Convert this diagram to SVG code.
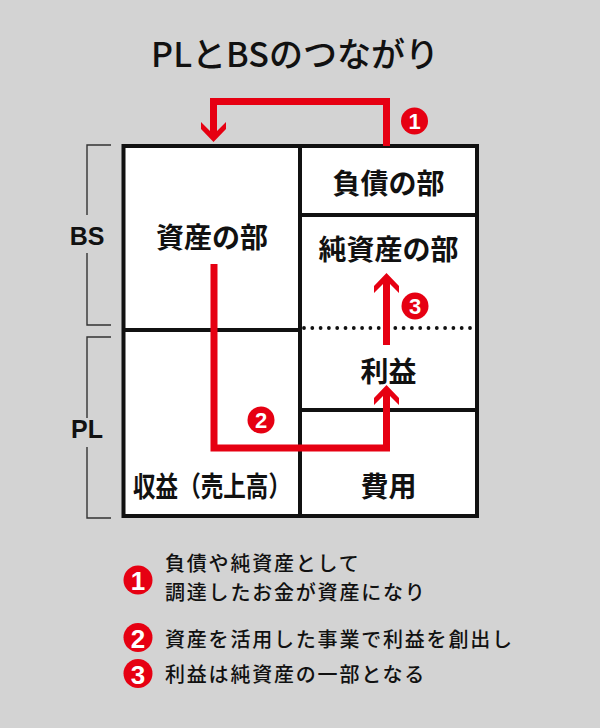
<svg xmlns="http://www.w3.org/2000/svg" width="600" height="728" viewBox="0 0 600 728">
<style>
.jp{font-family:"Noto Sans CJK JP","Noto Sans",sans-serif;fill:#111}
.lbl{font-size:28px;font-weight:bold;text-anchor:middle;dominant-baseline:central}
.leg{font-size:20px;font-weight:500;letter-spacing:1.8px;dominant-baseline:central}
.side{font-family:"Liberation Sans",Arial,sans-serif;font-size:25px;font-weight:bold;fill:#111;text-anchor:middle;dominant-baseline:central}
.cell{fill:#fff;stroke:#111;stroke-width:4}
.div{stroke:#111;stroke-width:4;fill:none}
.arrow{fill:none;stroke:#e60012;stroke-width:7;stroke-linejoin:miter}
.badge{fill:#e60012}
.num{font-family:"Liberation Sans",Arial,sans-serif;font-weight:bold;fill:#fff;text-anchor:middle;dominant-baseline:central}
.br{fill:none;stroke:#333;stroke-width:1.4}
</style>
<defs>
<marker id="head" viewBox="-10 -13 22 26" markerWidth="22" markerHeight="26" refX="0" refY="0" orient="auto" markerUnits="userSpaceOnUse">
<polygon points="11,0 -2,-12.5 -9,-12.5 0,-3.5 0,3.5 -9,12.5 -2,12.5" fill="#e60012"/>
</marker>
</defs>
<rect x="0" y="0" width="600" height="728" fill="#d3d3d3"/>
<text class="jp" x="295" y="52" font-size="34" font-weight="500" text-anchor="middle" dominant-baseline="central">PLとBSのつながり</text>

<g id="brackets">
<path class="br" d="M111,145 H87 V215 M87,253 V325 H111"/>
<text class="side" x="87" y="236">BS</text>
<path class="br" d="M111,337 H87 V418 M87,447 V518 H111"/>
<text class="side" x="87" y="429">PL</text>
</g>

<g id="table">
<rect class="cell" x="123.5" y="146" width="353.5" height="370"/>
<line class="div" x1="300" y1="146" x2="300" y2="516"/>
</g>
<g id="asset">
<text class="jp lbl" x="212" y="235.5">資産の部</text>
</g>
<g id="revenue">
<line class="div" x1="123.5" y1="330" x2="300" y2="330"/>
<text class="jp lbl" x="212" y="485" textLength="158" lengthAdjust="spacingAndGlyphs">収益（売上高）</text>
</g>
<g id="liability">
<line class="div" x1="300" y1="215" x2="477" y2="215"/>
<text class="jp lbl" x="388.5" y="182">負債の部</text>
</g>
<g id="equity">
<text class="jp lbl" x="388.5" y="247.5">純資産の部</text>
<line x1="304" y1="328" x2="476" y2="328" stroke="#111" stroke-width="3.8" stroke-linecap="round" stroke-dasharray="0 8.3"/>
</g>
<g id="profit">
<text class="jp lbl" x="388.5" y="370">利益</text>
</g>
<g id="expense">
<line class="div" x1="300" y1="410" x2="477" y2="410"/>
<text class="jp lbl" x="388.5" y="485">費用</text>
</g>

<g id="connectors">
<path class="arrow" d="M386.5,146 V101.5 H213.5 V131" marker-end="url(#head)"/>
<path class="arrow" d="M214,264 V448 H386.5 V396" marker-end="url(#head)"/>
<path class="arrow" d="M386.5,345 V284" marker-end="url(#head)"/>
<circle class="badge" cx="414.5" cy="121" r="13.5"/>
<text class="num" x="414.5" y="121.5" font-size="22">1</text>
<circle class="badge" cx="261" cy="420" r="13.5"/>
<text class="num" x="261" y="420.5" font-size="22">2</text>
<circle class="badge" cx="415" cy="306" r="13.5"/>
<text class="num" x="415" y="306.5" font-size="22">3</text>
</g>

<g id="legend">
<circle class="badge" cx="138" cy="580" r="14.5"/>
<text class="num" x="138" y="581" font-size="26">1</text>
<text class="jp leg" x="165" y="562.5">負債や純資産として</text>
<text class="jp leg" x="165" y="591.5">調達したお金が資産になり</text>
<circle class="badge" cx="138" cy="637.5" r="14.5"/>
<text class="num" x="138" y="638.5" font-size="26">2</text>
<text class="jp leg" x="165" y="638.5">資産を活用した事業で利益を創出し</text>
<circle class="badge" cx="138" cy="673.5" r="14.5"/>
<text class="num" x="138" y="674.5" font-size="26">3</text>
<text class="jp leg" x="165" y="673.5">利益は純資産の一部となる</text>
</g>
</svg>
